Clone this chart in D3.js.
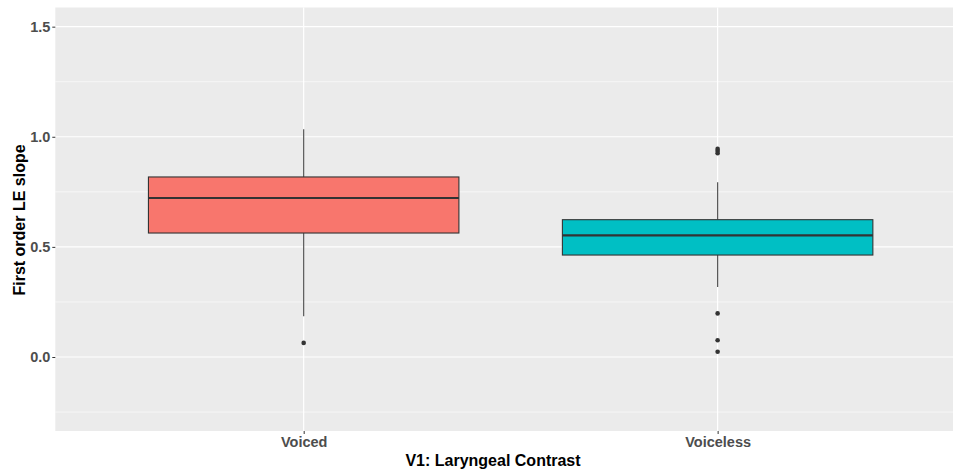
<!DOCTYPE html>
<html>
<head>
<meta charset="utf-8">
<script src="https://cdn.jsdelivr.net/npm/d3@7"></script>
<style>
  html, body { margin: 0; padding: 0; background: #ffffff; }
  svg { display: block; font-family: "Liberation Sans", Arial, sans-serif; }
</style>
</head>
<body>
<svg id="chart" width="953" height="469"></svg>
<script>
// Laryngeal contrast groups and their box-plot summaries
const categories = ["Voiced", "Voiceless"];
const fills = ["#F8766D", "#00BFC4"];
const q1 = [0.563, 0.463];
const medians = [0.722, 0.5525];
const q3 = [0.8175, 0.6235];
const whiskerLow = [0.185, 0.318];
const whiskerHigh = [1.034, 0.793];
const outliersVoiced = [0.064];
const outliersVoiceless = [0.945, 0.935, 0.925, 0.198, 0.076, 0.024];
const yTicks = [0.0, 0.5, 1.0, 1.5];
const yMinor = [-0.25, 0.25, 0.75, 1.25];

const svg = d3.select("#chart");
const panel = { left: 55.3, top: 7.5, right: 966, bottom: 431 };

// discrete x axis with ggplot-style 0.6 expansion on each side
const x = d3.scaleLinear().domain([0.4, categories.length + 0.6]).range([panel.left, panel.right]);
const y = d3.scaleLinear().domain([-0.336, 1.587]).range([panel.bottom, panel.top]);
const boxW = 0.75;

svg.append("rect")
  .attr("x", panel.left).attr("y", panel.top)
  .attr("width", panel.right - panel.left).attr("height", panel.bottom - panel.top)
  .attr("fill", "#EBEBEB");

const grid = svg.append("g");
grid.selectAll("line.minor").data(yMinor).join("line")
  .attr("x1", panel.left).attr("x2", panel.right)
  .attr("y1", d => y(d)).attr("y2", d => y(d))
  .attr("stroke", "#ffffff").attr("stroke-width", 0.6);
grid.selectAll("line.major").data(yTicks).join("line")
  .attr("x1", panel.left).attr("x2", panel.right)
  .attr("y1", d => y(d)).attr("y2", d => y(d))
  .attr("stroke", "#ffffff").attr("stroke-width", 1.2);
grid.selectAll("line.vx").data(categories).join("line")
  .attr("x1", (d, i) => x(i + 1)).attr("x2", (d, i) => x(i + 1))
  .attr("y1", panel.top).attr("y2", panel.bottom)
  .attr("stroke", "#ffffff").attr("stroke-width", 1.2);

// y axis
const yAxis = d3.axisLeft(y).tickValues(yTicks).tickFormat(d3.format(".1f")).tickSize(3).tickPadding(2);
const gy = svg.append("g").attr("transform", `translate(${panel.left},0)`).call(yAxis);
gy.select(".domain").remove();
gy.selectAll(".tick line").attr("stroke", "#333333");
gy.selectAll(".tick text").attr("fill", "#4D4D4D").attr("font-size", "14.5px").attr("font-weight", "bold");

// x axis
const xAxis = d3.axisBottom(x).tickValues(categories.map((c, i) => i + 1))
  .tickFormat((d) => categories[d - 1]).tickSize(3).tickPadding(3);
const gx = svg.append("g").attr("transform", `translate(0,${panel.bottom})`).call(xAxis);
gx.select(".domain").remove();
gx.selectAll(".tick line").attr("stroke", "#333333");
gx.selectAll(".tick text").attr("fill", "#4D4D4D").attr("font-size", "14.5px").attr("font-weight", "bold");

// boxes
const outliers = [outliersVoiced, outliersVoiceless];
const boxes = svg.append("g");
categories.forEach((c, i) => {
  const cx = x(i + 1);
  const g = boxes.append("g");
  g.append("line").attr("x1", cx).attr("x2", cx)
    .attr("y1", y(q3[i])).attr("y2", y(whiskerHigh[i]))
    .attr("stroke", "#555555").attr("stroke-width", 1.2);
  g.append("line").attr("x1", cx).attr("x2", cx)
    .attr("y1", y(q1[i])).attr("y2", y(whiskerLow[i]))
    .attr("stroke", "#555555").attr("stroke-width", 1.2);
  g.append("rect")
    .attr("x", x(i + 1 - boxW / 2)).attr("width", x(i + 1 + boxW / 2) - x(i + 1 - boxW / 2))
    .attr("y", y(q3[i])).attr("height", y(q1[i]) - y(q3[i]))
    .attr("fill", fills[i]).attr("stroke", "#333333").attr("stroke-width", 1.1);
  g.append("line")
    .attr("x1", x(i + 1 - boxW / 2)).attr("x2", x(i + 1 + boxW / 2))
    .attr("y1", y(medians[i])).attr("y2", y(medians[i]))
    .attr("stroke", "#333333").attr("stroke-width", 2.2);
  g.selectAll("circle").data(outliers[i]).join("circle")
    .attr("cx", cx).attr("cy", d => y(d)).attr("r", 2.3)
    .attr("fill", "#333333");
});

// axis titles
svg.append("text")
  .attr("x", 493).attr("y", 466)
  .attr("text-anchor", "middle")
  .attr("font-size", "16px").attr("font-weight", "bold").attr("fill", "#000000")
  .text("V1: Laryngeal Contrast");
svg.append("text")
  .attr("transform", "translate(25,220) rotate(-90)")
  .attr("text-anchor", "middle")
  .attr("font-size", "16px").attr("font-weight", "bold").attr("fill", "#000000")
  .text("First order LE slope");
</script>
</body>
</html>
